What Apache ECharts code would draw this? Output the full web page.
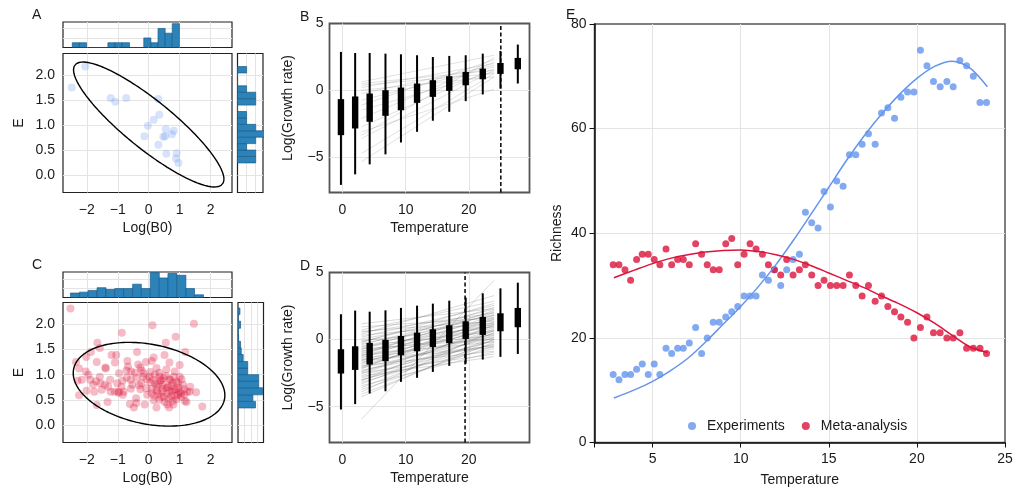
<!DOCTYPE html>
<html>
<head>
<meta charset="utf-8">
<title>Thermal performance panels</title>
<script src="https://cdn.jsdelivr.net/npm/echarts/dist/echarts.min.js"></script>
<style>
html, body { margin: 0; padding: 0; background: #fff; }
#chart { width: 1025px; height: 489px; }
</style>
</head>
<body>
<div id="chart"></div>
<script>
'use strict';
/*---- Panel A data ----*/
var logB0A = [-2.49, -2.05, -1.23, -1.08, -0.73, 0.31, 0.34, 0.16, -0.03, -0.14, 0.31, 0.47, 0.53, 0.55, 0.75, 0.81, 0.57, 0.90, 0.88, 0.96];
var eA = [1.75, 2.17, 1.545, 1.47, 1.545, 1.525, 1.21, 1.11, 0.99, 0.78, 0.61, 0.77, 0.78, 0.92, 0.82, 0.89, 0.43, 0.44, 0.34, 0.25];
var histAxEdges = [-2.47, -2.24, -2.01, -1.78, -1.55, -1.32, -1.09, -0.86, -0.62, -0.39, -0.16, 0.07, 0.30, 0.53, 0.76, 0.99];
var histAxCounts = [1, 1, 0, 0, 0, 1, 1, 1, 0, 0, 2, 1, 4, 3, 5];
var histAyEdges = [0.25, 0.378, 0.506, 0.634, 0.762, 0.89, 1.018, 1.146, 1.274, 1.402, 1.53, 1.658, 1.786, 1.914, 2.042, 2.17];
var histAyCounts = [2, 2, 1, 2, 3, 2, 1, 1, 0, 2, 2, 1, 0, 0, 1];
// centre x, centre y, half width, half height, correlation
var ellipseA = [0.0, 1.015, 2.43, 1.245, -0.875];

/*---- Panel C data ----*/
var logB0C = [-2.53, 0.12, 1.46, -0.87, 0.87, -1.66, 0.55, -1.58, -0.38, 1.18,
	-2.35, -2.02, -1.87, -1.20, -1.05, 0.16, 0.51, -2.25, -2.03, -1.68,
	-1.40, -1.09, -0.69, -0.09, 0.10, 0.67, 1.00, -1.39, -0.72, -0.96,
	-0.57, -0.27, -0.23, -0.45, -0.17, 0.05, 0.34, 0.55, 0.81, 1.00,
	-2.16, -1.89, -1.70, -1.56, -1.42, -1.25, -1.02, -0.85, -0.71, -0.58,
	-0.39, -0.31, -0.06, 0.20, 0.40, 0.48, 0.66, 0.77, 0.89, 1.06,
	-2.01, -1.76, -1.52, -1.23, -0.98, -0.81, -0.58, -0.27, 0.10, 0.26,
	0.43, 0.57, 0.67, 0.82, 0.96, 1.14, 1.32, 1.34, 1.53, -2.25,
	-1.33, -0.97, -0.84, -0.41, -0.40, -0.13, 0.19, 0.34, 0.49, 0.73,
	0.90, 1.04, 1.22, -1.68, -0.61, -0.48, 0.25, 0.60, 0.66, 1.17,
	1.73, 0.80, 0.02, 0.14, 0.31, 0.46, 0.62, 0.76, 0.86, 1.00,
	0.95, 0.70, 0.35, 0.25, 0.09, 0.16, 0.52, 0.78, 1.05, 1.25,
	1.11, 0.41, -0.08, -0.24, -0.53, -0.88, -1.10, -1.31, -1.80, -1.58,
	-0.34, 0.25, 0.57, 0.84, -0.18, -0.67, 0.60, 0.88, 0.72, 0.30,
	0.05, 0.45, 0.95, 1.15, 0.20, -0.05, 0.65, 0.38, -1.95, -2.30];
var eC = [2.31, 1.98, 2.01, 1.83, 1.75, 1.63, 1.63, 1.53, 1.45, 1.45,
	1.25, 1.35, 1.45, 1.39, 1.39, 1.34, 1.39, 1.12, 1.06, 1.25,
	1.14, 1.24, 1.27, 1.25, 1.27, 1.24, 1.19, 1.12, 1.08, 1.03,
	1.06, 1.14, 1.08, 1.04, 1.03, 1.05, 1.04, 0.98, 0.96, 0.96,
	0.90, 0.90, 0.87, 0.83, 0.80, 0.90, 0.83, 0.88, 0.94, 0.90,
	0.94, 0.79, 0.91, 0.83, 0.89, 0.93, 0.91, 0.84, 0.86, 0.91,
	0.68, 0.66, 0.70, 0.66, 0.66, 0.66, 0.72, 0.71, 0.72, 0.68,
	0.66, 0.74, 0.68, 0.71, 0.74, 0.71, 0.66, 0.76, 0.65, 0.59,
	0.46, 0.64, 0.60, 0.53, 0.44, 0.41, 0.58, 0.50, 0.56, 0.57,
	0.51, 0.63, 0.46, 0.40, 0.42, 0.35, 0.35, 0.41, 0.35, 0.48,
	0.37, 0.41, 0.96, 0.90, 0.81, 0.80, 0.76, 0.66, 0.58, 0.66,
	0.83, 0.90, 0.96, 0.76, 0.63, 0.49, 0.46, 0.48, 0.56, 0.66,
	0.80, 0.56, 0.73, 0.83, 0.80, 0.76, 0.66, 0.76, 0.80, 0.96,
	1.20, 1.13, 1.10, 1.06, 0.96, 1.16, 0.62, 0.70, 0.78, 0.62,
	0.85, 0.72, 0.60, 0.60, 1.00, 0.60, 0.52, 0.88, 1.00, 0.88];
var histCxEdges = [-2.53, -2.24, -1.96, -1.67, -1.38, -1.10, -0.81, -0.52, -0.24, 0.05, 0.34, 0.62, 0.91, 1.20, 1.48, 1.77];
var histCxCounts = [5, 6, 8, 11, 9, 10, 10, 15, 10, 28, 22, 27, 25, 10, 3];
var histCyEdges = [0.34, 0.47, 0.60, 0.74, 0.87, 1.00, 1.13, 1.26, 1.40, 1.53, 1.66, 1.79, 1.92, 2.06, 2.19, 2.32];
var histCyCounts = [27, 23, 38, 32, 32, 15, 15, 8, 5, 4, 1, 0, 4, 0, 3];
var ellipseC = [0.01, 0.81, 2.45, 0.83, -0.265];

/*---- Panels B and D data ----*/
var boxTemps = [-0.25, 2.0, 4.3, 6.8, 9.25, 11.8, 14.3, 16.9, 19.5, 22.2, 25.0, 27.75];
// whisker low, box low, box high, whisker high
var boxB = [
	[-7.10, -3.37, -0.67, 2.87], [-6.31, -2.87, -0.47, 2.79], [-5.56, -2.37, -0.25, 2.79],
	[-4.81, -1.92, 0.00, 2.74], [-3.92, -1.50, 0.20, 2.69], [-3.12, -0.95, 0.50, 2.62],
	[-2.29, -0.50, 0.75, 2.49], [-1.62, -0.05, 1.05, 2.57], [-0.82, 0.37, 1.37, 2.62],
	[-0.32, 0.82, 1.62, 2.74], [0.12, 1.22, 2.04, 2.94], [0.50, 1.57, 2.42, 3.42]];
var boxD = [
	[-5.21, -2.53, -0.72, 1.89], [-4.81, -2.26, -0.50, 2.16], [-4.02, -1.86, -0.25, 2.08],
	[-3.85, -1.61, -0.02, 2.18], [-3.15, -1.17, 0.27, 2.36], [-2.85, -0.87, 0.52, 2.53],
	[-2.41, -0.55, 0.77, 2.68], [-1.96, -0.27, 1.07, 2.90], [-1.79, 0.05, 1.36, 3.13],
	[-1.49, 0.35, 1.69, 3.45], [-1.29, 0.62, 1.96, 3.82], [-1.07, 0.92, 2.36, 4.24]];
var fitRange = [3, 24];
var fitStartB = [0.62, 0.50, 0.37, 0.20, 0.00, -0.25, -0.75, -1.12, -1.50, -2.12, -2.74, -3.12, -3.37, -3.62, -4.74, -5.36];
var fitEndB = [2.62, 1.50, 1.25, 2.00, 1.00, 1.87, 1.75, 2.29, 1.37, 2.12, 1.62, 0.07, 2.44, 1.50, 1.25, 1.00];
var fitStartD = [1.18, 0.95, 0.72, 0.55, 0.41, 0.33, 0.18, 0.05, -0.08, -0.17,
	-0.29, -0.38, -0.47, -0.56, -0.63, -0.74, -0.82, -0.91, -0.98, -1.07,
	-1.13, -1.22, -1.31, -1.38, -1.46, -1.55, -1.62, -1.71, -1.79, -1.86,
	-1.94, -2.03, -2.11, -2.19, -2.28, -2.36, -2.47, -2.55, -2.66, -2.74,
	-2.86, -2.97, -3.08, -3.19, -3.31, -3.44, -3.58, -3.72, -3.90, -4.08,
	-4.27, -5.93, 0.62, -0.21, -0.69, -1.18, -1.52, -2.07, -2.42, -3.02];
var fitEndD = [2.31, 1.62, 2.86, 1.98, 3.28, 1.21, 2.55, 1.79, 0.92, 2.27,
	1.48, 2.08, 0.61, 1.87, 1.12, 2.41, 0.34, 1.58, 1.02, 2.01,
	-0.18, 1.33, 0.72, 1.81, 0.21, 1.17, -0.57, 0.88, 1.52, 0.43,
	-0.86, 1.03, 0.12, 1.69, -0.38, 0.64, -1.08, 0.79, -0.09, -1.27,
	0.33, -0.66, 1.12, -0.31, 0.52, -0.92, 0.18, -0.47, 0.71, -0.19,
	0.05, 4.42, 1.37, 2.69, 0.02, 2.18, -0.48, 1.29, 0.48, -0.03];
var optimumB = 25.06;
var optimumD = 19.4;

/*---- Panel E data ----*/
var tempE = [2.76, 3.09, 3.43, 3.75, 4.09, 4.41, 4.75, 5.09, 5.41, 5.76,
	6.08, 6.42, 6.74, 7.08, 7.44, 7.78, 8.10, 8.44, 8.78, 9.15,
	9.49, 9.83, 10.19, 10.53, 10.87, 11.23, 11.57, 11.91, 12.27, 12.61,
	12.97, 13.33, 13.67, 14.03, 14.39, 14.73, 15.09, 15.45, 15.81, 16.17,
	16.53, 16.89, 17.25, 17.63, 17.99, 18.35, 18.73, 19.09, 19.47, 19.83,
	20.20, 20.57, 20.94, 21.32, 21.70, 22.06, 22.44, 22.82, 23.20, 23.58, 23.95];
var richExperiments = [13, 12, 13, 13, 14, 15, 13, 15, 13, 18,
	17, 18, 18, 19, 22, 17, 20, 23, 23, 24,
	25, 26, 28, 28, 28, 32, 31, 33, 30, 33,
	35, 36, 44, 42, 41, 48, 45, 50, 49, 55,
	55, 57, 59, 57, 63, 64, 62, 66, 67, 67,
	75, 72, 69, 68, 69, 68, 73, 72, 70, 65, 65];
var richMeta = [34, 34, 33, 31, 35, 36, 36, 35, 34, 37,
	34, 35, 35, 34, 38, 36, 34, 33, 33, 38,
	39, 34, 36, 38, 37, 36, 34, 33, 32, 35,
	32, 33, 34, 32, 30, 31, 30, 30, 30, 32,
	30, 28, 30, 27, 28, 26, 25, 24, 23, 20,
	22, 24, 21, 21, 20, 20, 21, 18, 18, 18, 17];
var curveT = [2.8, 4, 5, 6, 7, 8, 9, 10, 11, 12, 13, 14, 15, 16, 17, 18, 19, 20, 21, 22, 23, 24];
var curveExperiments = [8.5, 10.1, 11.7, 13.7, 16.1, 19.2, 22.6, 26.0, 29.8, 34.0, 38.7, 43.7, 48.8, 53.9, 58.6, 62.8, 66.5, 69.6, 71.9, 72.9, 71.6, 68.0];
var curveMeta = [31.5, 33.0, 34.2, 35.2, 35.9, 36.4, 36.7, 36.8, 36.5, 35.9, 35.0, 33.8, 32.4, 31.0, 29.6, 28.0, 26.5, 24.8, 22.8, 20.5, 18.3, 17.2];

/*---- helpers ----*/
var textColor = '#1a1a1a';
var histFill = '#2b83ba';
var histEdge = '#1c5d86';

function zip(a, b) {
	return a.map(function (v, i) { return [v, b[i]]; });
}
function bins(edges, counts) {
	return counts.map(function (c, i) { return [edges[i], edges[i + 1], c]; });
}
function ellipse(p) {
	var pts = [];
	for (var k = 0; k <= 180; k++) {
		var t = k / 180 * 2 * Math.PI;
		pts.push([p[0] + p[2] * Math.cos(t),
			p[1] + p[3] * (p[4] * Math.cos(t) + Math.sqrt(1 - p[4] * p[4]) * Math.sin(t))]);
	}
	return pts;
}
function fmtStep(step, dec) {
	return function (v) {
		var k = v / step;
		if (Math.abs(k - Math.round(k)) > 1e-6) return '';
		return (Math.round(k) * step).toFixed(dec).replace('-', '\u2212');
	};
}
function axis(grid, min, max, split, o) {
	o = o || {};
	return {
		type: 'value', gridIndex: grid, min: min, max: max, splitNumber: split,
		name: o.name || '', nameLocation: 'middle', nameGap: o.nameGap || 0,
		nameTextStyle: {fontSize: 14, color: textColor},
		axisLine: {show: !!o.line, onZero: false, lineStyle: {color: '#111', width: 1.5}},
		axisTick: {show: !!o.tick, length: 5, lineStyle: {color: '#111', width: 1}},
		axisLabel: {show: !!o.fmt, fontSize: 14, color: textColor, margin: o.margin || 8, formatter: o.fmt},
		splitLine: {show: true, showMinLine: false, showMaxLine: false, lineStyle: {color: '#e4e4e4', width: 1}}
	};
}
function gridBox(left, top, width, height, color, bw) {
	return {left: left, top: top, width: width, height: height, show: true,
		borderColor: color, borderWidth: bw, backgroundColor: 'transparent', outerBoundsMode: 'none', containLabel: false};
}
function histUp(params, api) {
	var p0 = api.coord([api.value(0), 0]);
	var p1 = api.coord([api.value(1), api.value(2)]);
	return {type: 'rect', shape: {x: p0[0], y: p1[1], width: p1[0] - p0[0], height: p0[1] - p1[1]},
		style: {fill: histFill, stroke: histEdge, lineWidth: 0.7}};
}
function histSide(params, api) {
	var p0 = api.coord([0, api.value(0)]);
	var p1 = api.coord([api.value(2), api.value(1)]);
	return {type: 'rect', shape: {x: p0[0], y: p1[1], width: p1[0] - p0[0], height: p0[1] - p1[1]},
		style: {fill: histFill, stroke: histEdge, lineWidth: 0.7}};
}
function boxItem(params, api) {
	var t = api.value(0);
	var w0 = api.coord([t, api.value(1)]);
	var b0 = api.coord([t, api.value(2)]);
	var b1 = api.coord([t, api.value(3)]);
	var w1 = api.coord([t, api.value(4)]);
	return {type: 'group', children: [
		{type: 'line', shape: {x1: w0[0], y1: w0[1], x2: w1[0], y2: w1[1]}, style: {stroke: '#000', lineWidth: 2}},
		{type: 'rect', shape: {x: b0[0] - 3.2, y: b1[1], width: 6.4, height: b0[1] - b1[1]}, style: {fill: '#000'}}
	]};
}
function fitItem(alpha) {
	return function (params, api) {
		var a = api.coord([api.value(0), api.value(1)]);
		var b = api.coord([api.value(2), api.value(3)]);
		return {type: 'line', shape: {x1: a[0], y1: a[1], x2: b[0], y2: b[1]},
			style: {stroke: 'rgba(70,70,70,' + alpha + ')', lineWidth: 1}};
	};
}
function fitLines(starts, ends) {
	return starts.map(function (s, i) { return [fitRange[0], s, fitRange[1], ends[i]]; });
}
function boxes(stats) {
	return stats.map(function (s, i) { return [boxTemps[i], s[0], s[1], s[2], s[3]]; });
}

var chart = echarts.init(document.getElementById('chart'), null, {renderer: 'canvas'});

var fmtLog = fmtStep(1, 0), fmtE = fmtStep(0.5, 1), fmtT = fmtStep(10, 0), fmtG = fmtStep(5, 0);

var option = {
	animation: false,
	backgroundColor: '#fff',
	textStyle: {fontFamily: '"Liberation Sans", Arial, Helvetica, sans-serif'},
	grid: [
		gridBox(63, 22, 169, 25.5, '#222', 1.2),
		gridBox(63, 53.5, 169, 139, '#222', 1.2),
		gridBox(237.5, 53.5, 25.5, 139, '#222', 1.2),
		gridBox(63, 272, 169, 25.5, '#222', 1.2),
		gridBox(63, 302.5, 169, 140, '#222', 1.2),
		gridBox(238, 302.5, 25.5, 140, '#222', 1.2),
		gridBox(329.5, 23.5, 200, 169, '#555', 1.8),
		gridBox(329.5, 272.5, 200, 170, '#555', 1.8),
		gridBox(594.5, 24, 410.5, 418.5, '#555', 1.5)
	],
	xAxis: [
		axis(0, -2.77, 2.69, 5),
		axis(1, -2.77, 2.69, 5, {fmt: fmtLog, name: 'Log(B0)', nameGap: 29, margin: 11}),
		axis(2, 0, 2.8, 3),
		axis(3, -2.77, 2.69, 5),
		axis(4, -2.77, 2.69, 5, {fmt: fmtLog, name: 'Log(B0)', nameGap: 29, margin: 11}),
		axis(5, 0, 39.4, 4),
		axis(6, -2.06, 29.6, 3, {fmt: fmtT, name: 'Temperature', nameGap: 29, margin: 11}),
		axis(7, -2.06, 29.6, 3, {fmt: fmtT, name: 'Temperature', nameGap: 29, margin: 11}),
		axis(8, 1.7, 25, 5, {fmt: fmtStep(5, 0), name: 'Temperature', nameGap: 31, margin: 10, line: true, tick: true})
	],
	yAxis: [
		axis(0, 0, 5.35, 3),
		axis(1, -0.34, 2.43, 5, {fmt: fmtE, name: 'E', nameGap: 37}),
		axis(2, -0.34, 2.43, 5),
		axis(3, 0, 28.7, 3),
		axis(4, -0.345, 2.43, 5, {fmt: fmtE, name: 'E', nameGap: 37}),
		axis(5, -0.345, 2.43, 5),
		axis(6, -7.67, 5, 2, {fmt: fmtG, name: 'Log(Growth rate)', nameGap: 34, margin: 6}),
		axis(7, -7.67, 5, 2, {fmt: fmtG, name: 'Log(Growth rate)', nameGap: 34, margin: 6}),
		axis(8, 0, 80, 4, {fmt: fmtStep(20, 0), name: 'Richness', nameGap: 30, margin: 8, line: true, tick: true})
	],
	legend: {
		data: ['Experiments', 'Meta-analysis'],
		left: 683, top: 414, icon: 'circle', itemWidth: 20, itemHeight: 8, itemGap: 17,
		textStyle: {fontSize: 14, color: textColor}
	},
	graphic: [
		{type: 'text', left: 32, top: 8, style: {text: 'A', fontSize: 14, fill: textColor}},
		{type: 'text', left: 300, top: 10, style: {text: 'B', fontSize: 14, fill: textColor}},
		{type: 'text', left: 32, top: 258, style: {text: 'C', fontSize: 14, fill: textColor}},
		{type: 'text', left: 300, top: 259, style: {text: 'D', fontSize: 14, fill: textColor}},
		{type: 'text', left: 566, top: 8, style: {text: 'E', fontSize: 14, fill: textColor}}
	],
	series: [
		/*---- A ----*/
		{type: 'custom', xAxisIndex: 0, yAxisIndex: 0, renderItem: histUp, data: bins(histAxEdges, histAxCounts), clip: true},
		{type: 'scatter', xAxisIndex: 1, yAxisIndex: 1, symbolSize: 8, data: zip(logB0A, eA),
			itemStyle: {color: 'rgba(100,149,237,0.33)'}},
		{type: 'line', xAxisIndex: 1, yAxisIndex: 1, showSymbol: false, data: ellipse(ellipseA),
			lineStyle: {color: '#000', width: 1.4}},
		{type: 'custom', xAxisIndex: 2, yAxisIndex: 2, renderItem: histSide, data: bins(histAyEdges, histAyCounts), clip: true},
		/*---- C ----*/
		{type: 'custom', xAxisIndex: 3, yAxisIndex: 3, renderItem: histUp, data: bins(histCxEdges, histCxCounts), clip: true},
		{type: 'scatter', xAxisIndex: 4, yAxisIndex: 4, symbolSize: 8, data: zip(logB0C, eC),
			itemStyle: {color: 'rgba(220,20,60,0.36)'}},
		{type: 'line', xAxisIndex: 4, yAxisIndex: 4, showSymbol: false, data: ellipse(ellipseC),
			lineStyle: {color: '#000', width: 1.4}},
		{type: 'custom', xAxisIndex: 5, yAxisIndex: 5, renderItem: histSide, data: bins(histCyEdges, histCyCounts), clip: true},
		/*---- B ----*/
		{type: 'custom', xAxisIndex: 6, yAxisIndex: 6, renderItem: fitItem(0.16), data: fitLines(fitStartB, fitEndB)},
		{type: 'custom', xAxisIndex: 6, yAxisIndex: 6, renderItem: boxItem, data: boxes(boxB)},
		{type: 'line', xAxisIndex: 6, yAxisIndex: 6, showSymbol: false, data: [[optimumB, -7.67], [optimumB, 5]],
			lineStyle: {color: '#000', width: 1.5, type: [4, 2.5]}},
		/*---- D ----*/
		{type: 'custom', xAxisIndex: 7, yAxisIndex: 7, renderItem: fitItem(0.2), data: fitLines(fitStartD, fitEndD)},
		{type: 'custom', xAxisIndex: 7, yAxisIndex: 7, renderItem: boxItem, data: boxes(boxD)},
		{type: 'line', xAxisIndex: 7, yAxisIndex: 7, showSymbol: false, data: [[optimumD, -7.67], [optimumD, 5]],
			lineStyle: {color: '#000', width: 1.5, type: [4, 2.5]}},
		/*---- E ----*/
		{name: 'Experiments', type: 'scatter', xAxisIndex: 8, yAxisIndex: 8, symbolSize: 7,
			data: zip(tempE, richExperiments), itemStyle: {color: '#6495ED'}},
		{name: 'Meta-analysis', type: 'scatter', xAxisIndex: 8, yAxisIndex: 8, symbolSize: 7,
			data: zip(tempE, richMeta), itemStyle: {color: '#DC143C'}},
		{type: 'line', xAxisIndex: 8, yAxisIndex: 8, showSymbol: false, smooth: 0.3,
			data: zip(curveT, curveExperiments), lineStyle: {color: '#6495ED', width: 1.5}},
		{type: 'line', xAxisIndex: 8, yAxisIndex: 8, showSymbol: false, smooth: 0.3,
			data: zip(curveT, curveMeta), lineStyle: {color: '#DC143C', width: 1.5}}
	]
};
chart.setOption(option);
</script>
</body>
</html>
